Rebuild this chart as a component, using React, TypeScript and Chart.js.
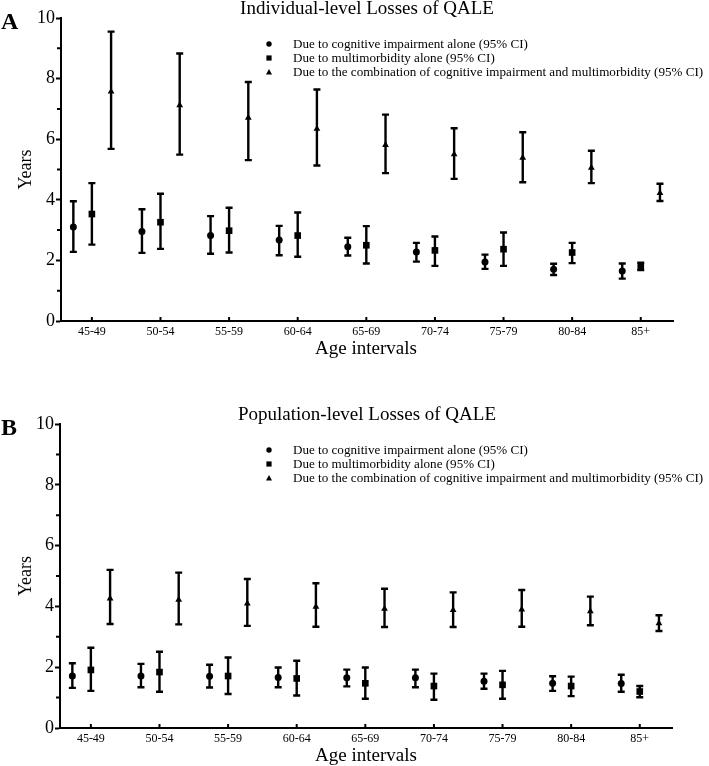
import React, { useEffect, useRef } from "react";
import { Chart, registerables } from "chart.js";

Chart.register(...registerables);

const FONT = "'Liberation Serif', 'Times New Roman', Times, serif";

const ageGroups = ["45-49", "50-54", "55-59", "60-64", "65-69", "70-74", "75-79", "80-84", "85+"];
const seriesLabels = [
  "Due to cognitive impairment alone (95% CI)",
  "Due to multimorbidity alone (95% CI)",
  "Due to the combination of cognitive impairment and multimorbidity (95% CI)",
];
const yTicks = [0, 2, 4, 6, 8, 10];

// Panel A: Individual-level losses
const indCogMean = [3.1, 2.95, 2.82, 2.67, 2.45, 2.28, 1.95, 1.71, 1.65];
const indCogLow = [2.28, 2.25, 2.22, 2.17, 2.16, 1.96, 1.72, 1.52, 1.4];
const indCogHigh = [3.95, 3.69, 3.46, 3.14, 2.75, 2.58, 2.19, 1.89, 1.9];
const indMultiMean = [3.53, 3.26, 2.98, 2.82, 2.5, 2.33, 2.37, 2.26, 1.79];
const indMultiLow = [2.52, 2.38, 2.26, 2.12, 1.9, 1.82, 1.82, 1.91, 1.68];
const indMultiHigh = [4.55, 4.2, 3.74, 3.58, 3.13, 2.79, 2.92, 2.58, 1.92];
const indCombMean = [7.57, 7.12, 6.71, 6.34, 5.81, 5.5, 5.39, 5.06, 4.22];
const indCombLow = [5.68, 5.49, 5.31, 5.13, 4.88, 4.69, 4.58, 4.55, 3.96];
const indCombHigh = [9.55, 8.83, 7.89, 7.64, 6.81, 6.36, 6.23, 5.62, 4.53];

// Panel B: Population-level losses
const popCogMean = [1.71, 1.71, 1.7, 1.66, 1.65, 1.65, 1.54, 1.47, 1.46];
const popCogLow = [1.32, 1.34, 1.33, 1.34, 1.37, 1.34, 1.29, 1.22, 1.19];
const popCogHigh = [2.13, 2.11, 2.08, 1.99, 1.92, 1.92, 1.79, 1.7, 1.75];
const popMultiMean = [1.91, 1.84, 1.71, 1.63, 1.47, 1.38, 1.42, 1.38, 1.2];
const popMultiLow = [1.22, 1.19, 1.12, 1.07, 0.96, 0.93, 0.96, 1.05, 1.01];
const popMultiHigh = [2.64, 2.51, 2.32, 2.21, 1.99, 1.79, 1.88, 1.69, 1.38];
const popCombMean = [4.26, 4.22, 4.09, 3.99, 3.92, 3.88, 3.9, 3.84, 3.44];
const popCombLow = [3.42, 3.41, 3.36, 3.33, 3.32, 3.32, 3.33, 3.38, 3.19];
const popCombHigh = [5.2, 5.11, 4.9, 4.76, 4.58, 4.46, 4.54, 4.32, 3.71];

const seriesOffsets = [-0.27, 0, 0.28];
const pointStyles = ["circle", "rect", "triangle"];
const pointRadii = [3.5, 4.7, 3.9];

type PanelProps = {
  letter: string;
  title: string;
  means: number[][];
  lows: number[][];
  highs: number[][];
  height: number;
  area: { top: number; bottom: number; left: number; right: number };
};

function drawLegendMarker(ctx: CanvasRenderingContext2D, kind: number, x: number, y: number) {
  ctx.beginPath();
  if (kind === 0) {
    ctx.arc(x, y, 2.7, 0, Math.PI * 2);
  } else if (kind === 1) {
    ctx.rect(x - 2.6, y - 2.6, 5.2, 5.2);
  } else {
    ctx.moveTo(x, y - 3);
    ctx.lineTo(x + 3, y + 2.5);
    ctx.lineTo(x - 3, y + 2.5);
    ctx.closePath();
  }
  ctx.fill();
}

const errorBarPlugin = {
  id: "errorBars",
  beforeDatasetsDraw(chart: any) {
    const ctx = chart.ctx;
    const xs = chart.scales.x;
    const ys = chart.scales.y;
    ctx.save();
    ctx.strokeStyle = "#000";
    ctx.lineWidth = 2.4;
    ctx.lineCap = "butt";
    chart.data.datasets.forEach((ds: any) => {
      ds.data.forEach((pt: any, i: number) => {
        const x = xs.getPixelForValue(pt.x);
        const yl = ys.getPixelForValue(ds.errLow[i]);
        const yh = ys.getPixelForValue(ds.errHigh[i]);
        ctx.beginPath();
        ctx.moveTo(x, yl);
        ctx.lineTo(x, yh);
        ctx.moveTo(x - 3.5, yl);
        ctx.lineTo(x + 3.5, yl);
        ctx.moveTo(x - 3.5, yh);
        ctx.lineTo(x + 3.5, yh);
        ctx.stroke();
      });
    });
    ctx.restore();
  },
};

const decorPlugin = {
  id: "decor",
  afterDraw(chart: any, _args: any, opts: any) {
    const ctx = chart.ctx;
    const { top, bottom, left } = chart.chartArea;
    const xs = chart.scales.x;
    const ys = chart.scales.y;
    ctx.save();
    ctx.fillStyle = "#000";
    ctx.strokeStyle = "#000";
    // inward x ticks
    ctx.lineWidth = 2;
    ctx.beginPath();
    ageGroups.forEach((_, i) => {
      const px = xs.getPixelForValue(i);
      ctx.moveTo(px, bottom);
      ctx.lineTo(px, bottom - 4);
    });
    // minor y ticks
    for (let v = 1; v < 10; v += 2) {
      const py = ys.getPixelForValue(v);
      ctx.moveTo(left, py);
      ctx.lineTo(left - 4, py);
    }
    ctx.stroke();

    // panel letter
    ctx.textAlign = "left";
    ctx.textBaseline = "alphabetic";
    ctx.font = `bold 24px ${FONT}`;
    ctx.fillText(opts.letter, 1, top + 11);

    // title
    ctx.textAlign = "center";
    ctx.font = `19px ${FONT}`;
    ctx.fillText(opts.title, 367, top - 4);

    // y title
    ctx.save();
    ctx.translate(31, (top + bottom) / 2);
    ctx.rotate(-Math.PI / 2);
    ctx.font = `18px ${FONT}`;
    ctx.textAlign = "center";
    ctx.fillText("Years", 0, 0);
    ctx.restore();

    // x title
    ctx.font = `19px ${FONT}`;
    ctx.textAlign = "center";
    ctx.fillText("Age intervals", 366, bottom + 33);

    // legend
    ctx.textAlign = "left";
    ctx.font = `13.1px ${FONT}`;
    seriesLabels.forEach((label, k) => {
      const cy = top + 26 + k * 14;
      drawLegendMarker(ctx, k, 269, cy);
      ctx.fillText(label, 293, cy + 4);
    });
    ctx.restore();
  },
};

function Panel(props: PanelProps) {
  const ref = useRef<HTMLCanvasElement | null>(null);
  useEffect(() => {
    const canvas = ref.current;
    if (!canvas) return;
    const { area, height } = props;
    const datasets = props.means.map((m, k) => ({
      label: seriesLabels[k],
      data: m.map((v, i) => ({ x: i + seriesOffsets[k], y: v })),
      errLow: props.lows[k],
      errHigh: props.highs[k],
      pointStyle: pointStyles[k],
      pointRadius: pointRadii[k],
      pointHoverRadius: pointRadii[k],
      backgroundColor: "#000",
      borderColor: "#000",
      borderWidth: 0,
      showLine: false,
    }));
    const chart = new Chart(canvas, {
      type: "scatter",
      data: { datasets } as any,
      plugins: [errorBarPlugin, decorPlugin],
      options: {
        responsive: false,
        animation: false,
        events: [],
        layout: { padding: { top: area.top, left: 0, right: 709 - area.right, bottom: 0 } },
        plugins: {
          legend: { display: false },
          tooltip: { enabled: false },
          decor: { letter: props.letter, title: props.title },
        } as any,
        scales: {
          x: {
            type: "linear",
            min: -0.45,
            max: 8.47,
            afterBuildTicks: (scale: any) => {
              scale.ticks = ageGroups.map((_, i) => ({ value: i }));
            },
            afterFit: (scale: any) => {
              scale.height = height - area.bottom;
            },
            grid: { display: false, drawTicks: false },
            border: { display: true, color: "#000", width: 2 },
            ticks: {
              autoSkip: false,
              maxRotation: 0,
              padding: 4,
              color: "#000",
              font: { family: FONT, size: 12 },
              callback: (v: any) => ageGroups[Math.round(Number(v))] ?? "",
            },
          },
          y: {
            type: "linear",
            min: 0,
            max: 10,
            afterBuildTicks: (scale: any) => {
              scale.ticks = yTicks.map((v) => ({ value: v }));
            },
            afterFit: (scale: any) => {
              scale.width = area.left;
            },
            grid: {
              display: true,
              drawOnChartArea: false,
              drawTicks: true,
              tickLength: 5,
              tickWidth: 2,
              tickColor: "#000",
            },
            border: { display: true, color: "#000", width: 2 },
            ticks: {
              autoSkip: false,
              padding: 1,
              color: "#000",
              font: { family: FONT, size: 18 },
              callback: (v: any) => String(v),
            },
          },
        },
      } as any,
    });
    return () => chart.destroy();
  }, []);
  return <canvas ref={ref} width={709} height={props.height} style={{ display: "block" }} />;
}

export default function App() {
  return (
    <div style={{ position: "absolute", left: 0, top: 0, width: 709, height: 766, background: "#fff" }}>
      <Panel
        letter="A"
        title="Individual-level Losses of QALE"
        means={[indCogMean, indMultiMean, indCombMean]}
        lows={[indCogLow, indMultiLow, indCombLow]}
        highs={[indCogHigh, indMultiHigh, indCombHigh]}
        height={380}
        area={{ top: 18, bottom: 321, left: 61, right: 673 }}
      />
      <Panel
        letter="B"
        title="Population-level Losses of QALE"
        means={[popCogMean, popMultiMean, popCombMean]}
        lows={[popCogLow, popMultiLow, popCombLow]}
        highs={[popCogHigh, popMultiHigh, popCombHigh]}
        height={386}
        area={{ top: 44, bottom: 348, left: 60, right: 672 }}
      />
    </div>
  );
}
